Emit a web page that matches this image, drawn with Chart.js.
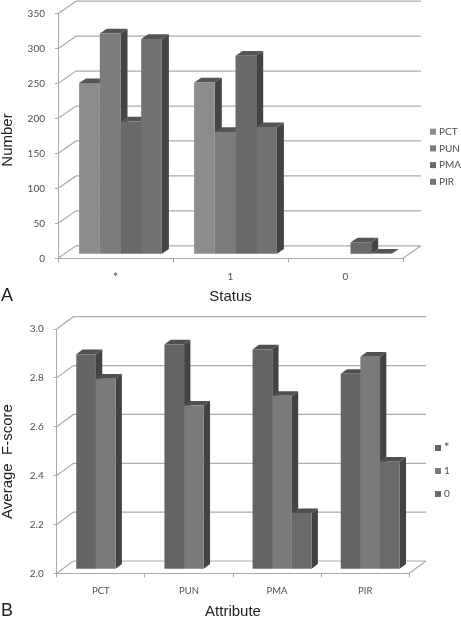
<!DOCTYPE html>
<html lang="en">
<head>
    <meta charset="UTF-8">
    <title>Status and attribute charts</title>
    <script src="https://cdn.jsdelivr.net/npm/chart.js"></script>
    <style>
        body { margin: 0; background: #fff; width: 461px; height: 617px; overflow: hidden; }
        canvas { position: absolute; left: 0; }
        #chartA { top: 0; }
        #chartB { top: 305px; }
    </style>
</head>
<body>
    <canvas id="chartA" width="461" height="310"></canvas>
    <canvas id="chartB" width="461" height="320"></canvas>

    <script>
        // Panel A
        const statusLabels = ['*', '1', '0'];
        const pctCounts = [245, 246, null];
        const punCounts = [316, 175, null];
        const pmaCounts = [190, 284, 17];
        const pirCounts = [308, 182, 1];
        const numberTicks = [0, 50, 100, 150, 200, 250, 300, 350];

        // Panel B
        const attributeLabels = ['PCT', 'PUN', 'PMA', 'PIR'];
        const starScores = [2.88, 2.92, 2.90, 2.80];
        const oneScores = [2.78, 2.67, 2.71, 2.87];
        const zeroScores = [null, null, 2.23, 2.44];
        const scoreTicks = [2.0, 2.2, 2.4, 2.6, 2.8, 3.0];

        // fake 3D: back wall, floor, bar sides and the legend are drawn around the normal chart
        const depthPlugin = {
            id: 'depth',
            beforeDatasetsDraw(chart, args, opts) {
                const ctx = chart.ctx;
                const area = chart.chartArea;
                const yScale = chart.scales.y;

                ctx.save();
                ctx.strokeStyle = '#acacac';
                ctx.lineWidth = 1.2;
                ctx.beginPath();
                yScale.ticks.forEach(t => {
                    const y = yScale.getPixelForValue(t.value);
                    ctx.moveTo(area.left, y);
                    ctx.lineTo(area.left + opts.wallX, y - opts.wallY);
                    ctx.lineTo(area.right + opts.wallX, y - opts.wallY);
                });
                ctx.moveTo(area.right, area.bottom);
                ctx.lineTo(area.right + opts.wallX, area.bottom - opts.wallY);
                ctx.stroke();

                // sides and tops first, the fronts cover whatever runs over
                const bars = [];
                chart.data.datasets.forEach((ds, i) => {
                    chart.getDatasetMeta(i).data.forEach((bar, j) => {
                        if (ds.data[j] !== null) bars.push(bar);
                    });
                });
                bars.sort((a, b) => a.x - b.x);
                ctx.translate(opts.barX, -opts.barY);
                bars.forEach(bar => {
                    const l = bar.x - bar.width / 2;
                    const r = bar.x + bar.width / 2;
                    ctx.fillStyle = opts.sideColor;
                    ctx.beginPath();
                    ctx.moveTo(r, bar.y);
                    ctx.lineTo(r + opts.sideX, bar.y - opts.sideY);
                    ctx.lineTo(r + opts.sideX, bar.base - opts.sideY);
                    ctx.lineTo(r, bar.base);
                    ctx.closePath();
                    ctx.fill();
                    ctx.fillStyle = opts.topColor;
                    ctx.beginPath();
                    ctx.moveTo(l, bar.y);
                    ctx.lineTo(l + opts.sideX, bar.y - opts.sideY);
                    ctx.lineTo(r + opts.sideX, bar.y - opts.sideY);
                    ctx.lineTo(r, bar.y);
                    ctx.closePath();
                    ctx.fill();
                });
                ctx.restore();

                ctx.save();
                ctx.translate(opts.barX, -opts.barY);
            },
            afterDatasetsDraw(chart) {
                chart.ctx.restore();
            },
            afterDraw(chart, args, opts) {
                const ctx = chart.ctx;
                ctx.save();

                // legend
                ctx.textBaseline = 'middle';
                ctx.textAlign = 'left';
                chart.data.datasets.forEach((ds, i) => {
                    const y = opts.legendY + i * opts.legendStep;
                    ctx.fillStyle = ds.backgroundColor;
                    ctx.fillRect(opts.legendX, y - 3, 6, 6);
                    ctx.fillStyle = '#505050';
                    ctx.font = (ds.label === '*' ? 13 : 10) + 'px Lato';
                    ctx.fillText(ds.label, opts.legendX + 9, y);
                });

                // panel letter
                ctx.fillStyle = '#222';
                ctx.font = '18px "Liberation Sans"';
                ctx.textBaseline = 'alphabetic';
                ctx.fillText(opts.letter, 1, opts.letterY);

                // y title sits lower than the middle of the axis
                ctx.font = '15px "Liberation Sans"';
                ctx.textAlign = 'center';
                ctx.translate(12, opts.yTitleY);
                ctx.rotate(-Math.PI / 2);
                ctx.fillText(opts.yTitle, 0, 0);
                ctx.restore();
            }
        };

        function createChart(id, labels, datasets, ticks, tickText, box, depth) {
            return new Chart(document.getElementById(id), {
                type: 'bar',
                data: { labels: labels, datasets: datasets },
                plugins: [depthPlugin],
                options: {
                    responsive: false,
                    animation: false,
                    layout: { padding: { top: box.top, right: box.right, left: 0, bottom: 0 } },
                    datasets: { bar: { barPercentage: 1, categoryPercentage: box.groupShare, borderWidth: 0, clip: false, base: ticks[0] } },
                    plugins: {
                        legend: { display: false },
                        tooltip: { enabled: false },
                        depth: depth
                    },
                    scales: {
                        x: {
                            offset: true,
                            grid: { drawOnChartArea: false, color: '#aaa', tickLength: 4 },
                            border: { color: '#aaa' },
                            ticks: {
                                color: '#505050',
                                font: c => ({ family: 'Lato', size: labels[c.index] === '*' ? 13 : box.xTickSize }),
                                padding: box.xTickPad,
                                maxRotation: 0,
                                autoSkip: false
                            },
                            title: {
                                display: true,
                                text: box.xTitle,
                                color: '#222',
                                font: { family: 'Liberation Sans', size: 15 },
                                padding: { top: 0, bottom: box.xTitlePad }
                            },
                            afterFit(scale) { scale.height = box.xHeight; }
                        },
                        y: {
                            min: ticks[0],
                            max: ticks[ticks.length - 1],
                            grid: { drawOnChartArea: false, color: '#aaa', tickLength: 3 },
                            border: { color: '#aaa' },
                            afterBuildTicks(scale) { scale.ticks = ticks.map(v => ({ value: v })); },
                            ticks: {
                                color: '#505050',
                                font: { family: 'Lato', size: 10 },
                                padding: box.yTickPad,
                                callback: tickText
                            },
                            afterFit(scale) {
                                scale.width = box.left;
                                scale.paddingTop = 0;
                                scale.paddingBottom = 0;
                            }
                        }
                    }
                }
            });
        }

        createChart('chartA', statusLabels, [
            { label: 'PCT', data: pctCounts, backgroundColor: '#8c8c8c' },
            { label: 'PUN', data: punCounts, backgroundColor: '#7c7c7c' },
            { label: 'PMA', data: pmaCounts, backgroundColor: '#696969' },
            { label: 'PIR', data: pirCounts, backgroundColor: '#727272' }
        ], numberTicks, v => String(v), {
            left: 58, top: 13.7, right: 58, xHeight: 51.7,
            groupShare: 0.72, xTickSize: 10, xTickPad: 8, yTickPad: 10,
            xTitle: 'Status', xTitlePad: 4
        }, {
            wallX: 18, wallY: 12.5, barX: 5, barY: 4, sideX: 7, sideY: 4.7,
            sideColor: '#444', topColor: '#555',
            legendX: 430, legendY: 131.7, legendStep: 16.7,
            letter: 'A', letterY: 301, yTitle: 'Number', yTitleY: 140
        });

        createChart('chartB', attributeLabels, [
            { label: '*', data: starScores, backgroundColor: '#646464' },
            { label: '1', data: oneScores, backgroundColor: '#7a7a7a' },
            { label: '0', data: zeroScores, backgroundColor: '#6a6a6a' }
        ], scoreTicks, v => v.toFixed(1), {
            left: 56.7, top: 24, right: 51.7, xHeight: 51.7,
            groupShare: 0.669, xTickSize: 9.5, xTickPad: 8, yTickPad: 10,
            xTitle: 'Attribute', xTitlePad: 4
        }, {
            wallX: 16.7, wallY: 12.3, barX: 5, barY: 4, sideX: 6.3, sideY: 4.7,
            sideColor: '#434343', topColor: '#505050',
            legendX: 435, legendY: 143, legendStep: 23,
            letter: 'B', letterY: 311, yTitle: 'Average  F-score', yTitleY: 156.5
        });
    </script>
</body>
</html>
